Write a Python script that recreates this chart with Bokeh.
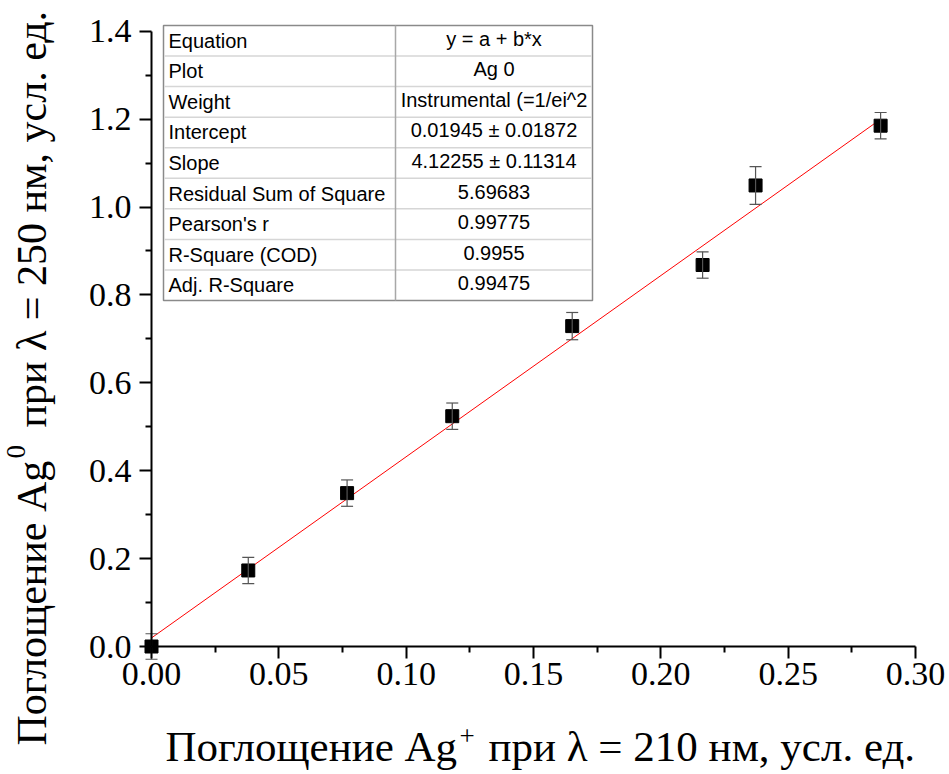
import math
from bokeh.plotting import figure
from bokeh.models import (ColumnDataSource, Whisker, TeeHead, Label, Range1d,
                          FixedTicker)
from bokeh.core.properties import value
from bokeh.embed import file_html
from bokeh.resources import INLINE

# ---------------- data ----------------
x_vals = [0.0, 0.038, 0.0768, 0.1181, 0.1652, 0.2164, 0.2372, 0.2863]
y_vals = [0.0, 0.173, 0.349, 0.524, 0.729, 0.868, 1.049, 1.185]
y_err = [0.029, 0.030, 0.030, 0.030, 0.031, 0.030, 0.043, 0.030]

fit_intercept = 0.01945
fit_slope = 4.12255

x_ticks = [0.0, 0.05, 0.10, 0.15, 0.20, 0.25, 0.30]
y_ticks = [0.0, 0.2, 0.4, 0.6, 0.8, 1.0, 1.2, 1.4]

table_labels = ["Equation", "Plot", "Weight", "Intercept", "Slope",
                "Residual Sum of Square", "Pearson's r", "R-Square (COD)",
                "Adj. R-Square"]
table_values = ["y = a + b*x", "Ag 0", "Instrumental (=1/ei^2",
                "0.01945 \u00b1 0.01872", "4.12255 \u00b1 0.11314", "5.69683",
                "0.99775", "0.9955", "0.99475"]

x_title_main = "Поглощение Ag"
x_title_sup = "+"
x_title_rest = "при \u03bb = 210 нм, усл. ед."
y_title_main = "Поглощение Ag"
y_title_sup = "0"
y_title_rest = "при \u03bb = 250 нм, усл. ед."

# ---------------- layout ----------------
W, H = 949, 774
AX_X0, AX_X1 = 151.0, 915.0      # pixel of x=0 and x=0.3
AX_Y0, AX_Y1 = 646.0, 30.7       # pixel of y=0 and y=1.4
FR_L, FR_R, FR_T, FR_B = 0, W, 0, H
sx = (AX_X1 - AX_X0) / 0.3
sy = (AX_Y0 - AX_Y1) / 1.4

def dx(px):
    return (px - AX_X0) / sx

def dy(py):
    return (AX_Y0 - py) / sy

p = figure(width=W, height=H, output_backend="svg", toolbar_location=None,
           x_range=Range1d(dx(FR_L), dx(FR_R)), y_range=Range1d(dy(FR_B), dy(FR_T)),
           min_border_left=0, min_border_right=0,
           min_border_top=0, min_border_bottom=0)
p.outline_line_color = None
p.grid.visible = False
p.background_fill_color = "white"
p.border_fill_color = "white"

for ax, ticks, bounds in ((p.xaxis, x_ticks, (0, 0.3)), (p.yaxis, y_ticks, (0, 1.4))):
    ax.ticker = FixedTicker(ticks=ticks,
                            minor_ticks=[(ticks[i] + ticks[i + 1]) / 2 for i in range(len(ticks) - 1)])
    ax.bounds = bounds
    ax.fixed_location = 0
    ax.axis_line_width = 2
    ax.axis_line_color = "black"
    ax.major_tick_line_width = 2
    ax.minor_tick_line_width = 2
    ax.major_tick_out = 12
    ax.major_tick_in = 0
    ax.minor_tick_out = 6
    ax.minor_tick_in = 0
    ax.major_label_text_font = "Liberation Serif"
    ax.major_label_text_font_size = "34px"
    ax.major_label_text_color = "black"

p.xaxis.major_label_overrides = {t: f"{t:.2f}" for t in x_ticks}
p.yaxis.major_label_overrides = {t: f"{t:.1f}" for t in y_ticks}
p.xaxis.major_label_standoff = 4
p.yaxis.major_label_standoff = 8

# ---------------- table ----------------
T_L, T_R, T_M, T_T, T_B = 163, 592, 395, 25, 300
n = len(table_labels)
rh = (T_B - T_T) / n
p.quad(left=[dx(T_L)], right=[dx(T_R)], top=[dy(T_T)], bottom=[dy(T_B)],
       fill_color="white", line_color="#8a8a8a", line_width=1.5)
row_lines_y = [dy(T_T + rh * (i + 1)) for i in range(n - 1)]
p.segment(x0=[dx(T_L + 1)] * (n - 1), x1=[dx(T_R - 1)] * (n - 1),
          y0=row_lines_y, y1=row_lines_y, line_color="#d6d6d6", line_width=1.5)
p.segment(x0=[dx(T_M)], x1=[dx(T_M)], y0=[dy(T_T)], y1=[dy(T_B)],
          line_color="#a8a8a8", line_width=1.5)
row_mid = [dy(T_T + rh * (i + 0.5)) for i in range(n)]
p.text(x=[dx(T_L + 5)] * n, y=row_mid, text=table_labels,
       text_font=value("Liberation Sans"), text_font_size="20px",
       text_align="left", text_baseline="middle", text_color="black")
p.text(x=[dx((T_M + T_R) / 2)] * n, y=[v + 2 / sy for v in row_mid], text=table_values,
       text_font=value("Liberation Sans"), text_font_size="20px",
       text_align="center", text_baseline="middle", text_color="black")

# ---------------- fit line ----------------
fx = [min(x_vals), max(x_vals)]
fy = [fit_intercept + fit_slope * v for v in fx]
p.line(fx, fy, line_color="#ff0000", line_width=1)

# ---------------- data with error bars ----------------
src = ColumnDataSource(dict(x=x_vals, y=y_vals,
                            lower=[a - e for a, e in zip(y_vals, y_err)],
                            upper=[a + e for a, e in zip(y_vals, y_err)]))
wh = Whisker(source=src, base="x", lower="lower", upper="upper",
             line_color="#555555", line_width=1.2,
             lower_head=TeeHead(size=12, line_color="#555555", line_width=1.2),
             upper_head=TeeHead(size=12, line_color="#555555", line_width=1.2))
wh.level = "glyph"
p.add_layout(wh)
p.scatter("x", "y", source=src, marker="square", size=13,
          fill_color="black", line_color="black")

# ---------------- axis titles ----------------
def lab(x, y, text, size, angle=0.0):
    p.add_layout(Label(x=x, y=y, text=text, text_font="Liberation Serif",
                       text_font_size=size, text_color="black",
                       text_align="left", text_baseline="middle", angle=angle))

lab(dx(165), dy(745.5), x_title_main, "43px")
lab(dx(459), dy(735), x_title_sup, "27px")
lab(dx(488), dy(745.5), x_title_rest, "43px")

lab(dx(31), dy(745), y_title_main, "42px", math.pi / 2)
lab(dx(15), dy(458), y_title_sup, "27px", math.pi / 2)
lab(dx(31), dy(427), y_title_rest, "42px", math.pi / 2)

open("out.html", "w").write(file_html(p, INLINE))
